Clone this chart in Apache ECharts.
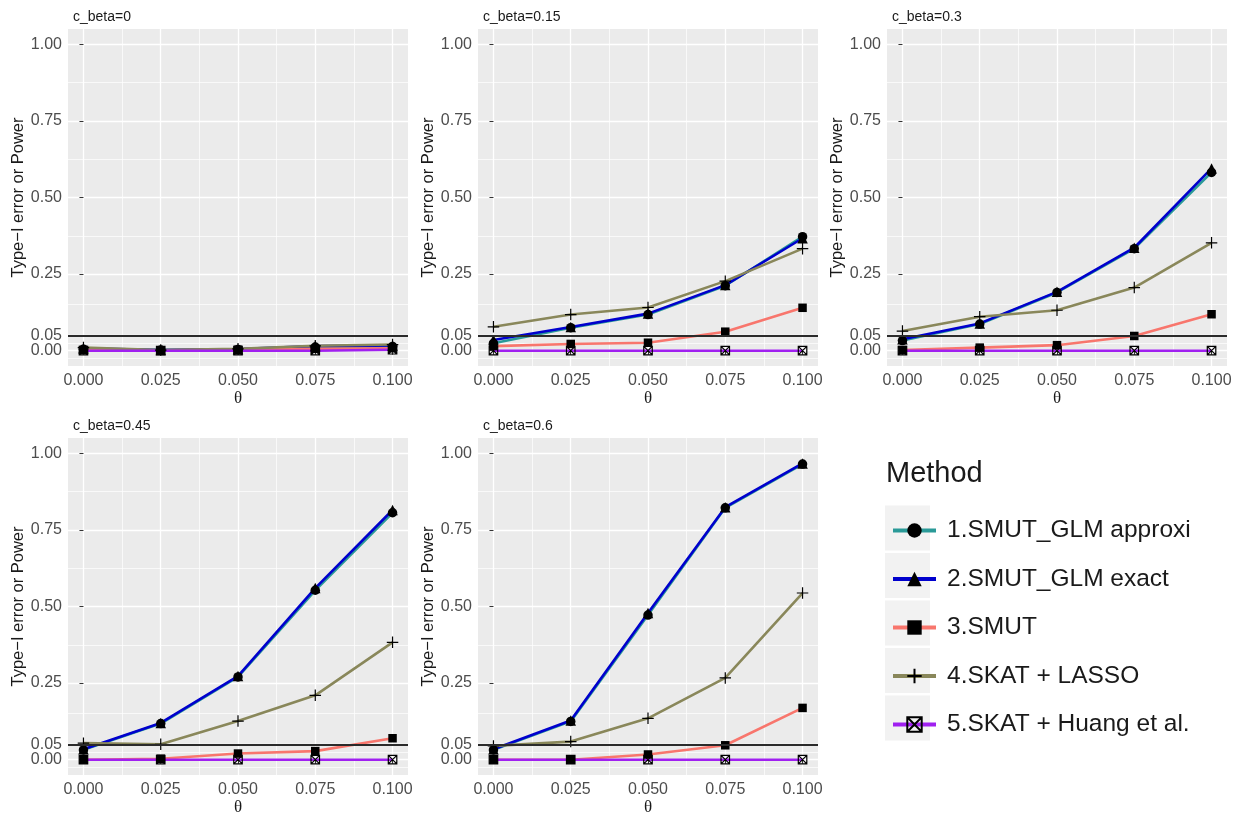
<!DOCTYPE html>
<html><head><meta charset="utf-8">
<script src="https://cdn.jsdelivr.net/npm/echarts@6/dist/echarts.min.js"></script>
<style>html,body{margin:0;padding:0;background:#fff}#c{width:1249px;height:817px}</style>
</head><body><div id="c"></div>
<script>
// ---- data ----
const theta = [0, 0.025, 0.05, 0.075, 0.1];
const panelTitles = ['c_beta=0', 'c_beta=0.15', 'c_beta=0.3', 'c_beta=0.45', 'c_beta=0.6'];
const methods = ['1.SMUT_GLM approxi', '2.SMUT_GLM exact', '3.SMUT', '4.SKAT + LASSO', '5.SKAT + Huang et al.'];
// values per panel (c_beta = 0, 0.15, 0.3, 0.45, 0.6), each across theta
const smutGlmApprox = [
  [0.005, 0.002, 0.004, 0.012, 0.014],
  [0.024, 0.075, 0.118, 0.212, 0.372],
  [0.033, 0.087, 0.190, 0.333, 0.582],
  [0.032, 0.118, 0.270, 0.553, 0.806],
  [0.032, 0.125, 0.472, 0.822, 0.965]
];
const smutGlmExact = [
  [0.008, 0.002, 0.005, 0.015, 0.017],
  [0.035, 0.077, 0.121, 0.214, 0.367],
  [0.037, 0.089, 0.192, 0.336, 0.595],
  [0.034, 0.120, 0.273, 0.560, 0.815],
  [0.034, 0.128, 0.479, 0.824, 0.967]
];
const smut = [
  [0.002, 0.001, 0.003, 0.006, 0.008],
  [0.015, 0.022, 0.026, 0.062, 0.140],
  [0.002, 0.010, 0.018, 0.048, 0.119],
  [0.000, 0.003, 0.020, 0.028, 0.070],
  [0.000, 0.000, 0.017, 0.047, 0.169]
];
const skatLasso = [
  [0.010, 0.002, 0.006, 0.016, 0.020],
  [0.078, 0.118, 0.141, 0.227, 0.333],
  [0.064, 0.111, 0.132, 0.206, 0.352],
  [0.054, 0.050, 0.126, 0.210, 0.383],
  [0.045, 0.059, 0.135, 0.267, 0.544]
];
const skatHuang = [
  [0, 0, 0, 0, 0.003],
  [0, 0, 0, 0, 0],
  [0, 0, 0, 0, 0],
  [0, 0, 0, 0, 0],
  [0, 0, 0, 0, 0]
];
const xTicks = [0, 0.025, 0.05, 0.075, 0.1];
const xMinor = [0.0125, 0.0375, 0.0625, 0.0875];
const yTicks = [0, 0.05, 0.25, 0.5, 0.75, 1];
const yMinor = [-0.025, 0.025, 0.15, 0.375, 0.625, 0.875];
const threshold = 0.05;

// ---- styling ----
const FONT = 'Liberation Sans, Arial, Helvetica, sans-serif';
const colors = ['#2A9A98', '#0000CD', '#F8766D', '#89875A', '#A020F0'];
const symbols = ['circle', 'triangle', 'rect', 'path://M6,0L6,12M0,6L12,6', 'path://M0,0L10,0L10,10L0,10ZM0,0L10,10M10,0L0,10'];
const symSizes = [9.5, 10.5, 8.5, 11.5, 8.5];
const itemStyles = [
  {color: '#000', borderWidth: 0, opacity: 1},
  {color: '#000', borderWidth: 0, opacity: 1},
  {color: '#000', borderWidth: 0, opacity: 1},
  {color: 'rgba(0,0,0,0)', borderColor: '#000', borderWidth: 1.2, opacity: 1},
  {color: 'rgba(0,0,0,0)', borderColor: '#000', borderWidth: 1.2, opacity: 1}
];
const allData = [smutGlmApprox, smutGlmExact, smut, skatLasso, skatHuang];

const lefts = [68, 478, 887, 68, 478];
const tops = [29, 29, 29, 438, 438];
const W = 340, H = 337;

// the threshold label is put on its own axis so the two close labels are both kept
const yLabelsMain = yTicks.filter(v => v !== threshold);
const yLabelsThr = [threshold];

const yLabelStyle = {fontFamily: FONT, fontSize: 16, color: '#4D4D4D', margin: 6,
  hideOverlap: false, showMinLabel: true, showMaxLabel: true};

const grids = [], xAxes = [], yAxes = [], titles = [], lineSeries = [], pointSeries = [];
for (let p = 0; p < 5; p++) {
  grids.push({left: lefts[p], top: tops[p], width: W, height: H, show: true,
    backgroundColor: '#EBEBEB', borderWidth: 0, containLabel: false});
  titles.push({text: panelTitles[p], left: lefts[p], top: tops[p] - 24,
    textStyle: {fontFamily: FONT, fontSize: 14, fontWeight: 'normal', color: '#1A1A1A'}});
  // major x axis
  xAxes.push({type: 'value', gridIndex: p, min: -0.005, max: 0.105, position: 'bottom',
    axisLine: {show: false},
    axisTick: {show: true, length: 4, lineStyle: {color: '#333', width: 1}, customValues: xTicks},
    axisLabel: {customValues: xTicks, formatter: v => v.toFixed(3), fontFamily: FONT, fontSize: 16, color: '#4D4D4D', margin: 7,
      hideOverlap: false, showMinLabel: true, showMaxLabel: true},
    splitLine: {show: true, lineStyle: {color: '#FFFFFF', width: 1.3}},
    name: 'θ', nameLocation: 'middle', nameGap: 24,
    nameTextStyle: {fontFamily: 'Liberation Serif, DejaVu Serif, serif', fontSize: 17, color: '#1A1A1A'}});
  // minor x axis
  xAxes.push({type: 'value', gridIndex: p, min: -0.005, max: 0.105, position: 'bottom',
    axisLine: {show: false}, axisTick: {show: false, customValues: xMinor},
    axisLabel: {show: false, customValues: xMinor},
    splitLine: {show: true, lineStyle: {color: '#FFFFFF', width: 0.7}}});
  // major y axis (ticks + grid lines + most labels)
  yAxes.push({type: 'value', gridIndex: p, min: -0.05, max: 1.05, position: 'left',
    axisLine: {show: false},
    axisTick: {show: true, length: 4, lineStyle: {color: '#333', width: 1}, customValues: yTicks},
    axisLabel: Object.assign({customValues: yLabelsMain, formatter: v => v.toFixed(2)}, yLabelStyle),
    splitLine: {show: true, lineStyle: {color: '#FFFFFF', width: 1.3}},
    name: 'Type\u2212I error or Power', nameLocation: 'middle', nameGap: 41, nameRotate: 90,
    nameTextStyle: {fontFamily: FONT, fontSize: 16.5, color: '#1A1A1A'}});
  // minor y axis
  yAxes.push({type: 'value', gridIndex: p, min: -0.05, max: 1.05, position: 'left',
    axisLine: {show: false}, axisTick: {show: false, customValues: yMinor},
    axisLabel: {show: false, customValues: yMinor},
    splitLine: {show: true, lineStyle: {color: '#FFFFFF', width: 0.7}}});
  // threshold label axis
  yAxes.push({type: 'value', gridIndex: p, min: -0.05, max: 1.05, position: 'left',
    axisLine: {show: false}, axisTick: {show: false, customValues: yLabelsThr},
    axisLabel: Object.assign({customValues: yLabelsThr, formatter: v => v.toFixed(2)}, yLabelStyle),
    splitLine: {show: false}});

  for (let m = 0; m < 5; m++) {
    const pts = theta.map((t, j) => [t, allData[m][p][j]]);
    const ls = {
      type: 'line', name: methods[m], xAxisIndex: 2 * p, yAxisIndex: 3 * p,
      data: pts, showSymbol: false, symbol: symbols[m], symbolSize: symSizes[m],
      itemStyle: itemStyles[m], lineStyle: {color: colors[m], width: 2.6},
      z: 2, silent: true
    };
    if (m === 4) {
      ls.markLine = {symbol: 'none', silent: true, label: {show: false},
        lineStyle: {color: '#2B2B2B', width: 1.8, type: 'solid'},
        data: [{yAxis: threshold}], animation: false};
    }
    lineSeries.push(ls);
    pointSeries.push({
      type: 'scatter', name: 'pts' + m, xAxisIndex: 2 * p, yAxisIndex: 3 * p,
      data: pts, symbol: symbols[m], symbolSize: symSizes[m], itemStyle: itemStyles[m],
      z: 3 + m * 0.01, silent: true
    });
  }
}

titles.push({text: 'Method', left: 881, top: 454,
  textStyle: {fontFamily: FONT, fontSize: 29, fontWeight: 'normal', color: '#1A1A1A'}});

const keyRects = methods.map((_, k) => ({
  type: 'rect', left: 885, top: 505.5 + k * 47.5, z: 0,
  shape: {width: 45, height: 45}, style: {fill: '#F2F2F2'}
}));

const chart = echarts.init(document.getElementById('c'), null, {renderer: 'canvas'});
chart.setOption({
  animation: false,
  backgroundColor: '#FFFFFF',
  title: titles,
  grid: grids,
  xAxis: xAxes,
  yAxis: yAxes,
  graphic: keyRects,
  legend: {
    data: methods, orient: 'vertical', left: 886, top: 513,
    itemWidth: 43, itemHeight: 18, itemGap: 23.5,
    lineStyle: {width: 4},
    textStyle: {fontFamily: FONT, fontSize: 24.5, color: '#1A1A1A', lineHeight: 24, padding: [0, 0, 0, 6]},
    selectedMode: false
  },
  series: lineSeries.concat(pointSeries)
});
</script>
</body></html>
